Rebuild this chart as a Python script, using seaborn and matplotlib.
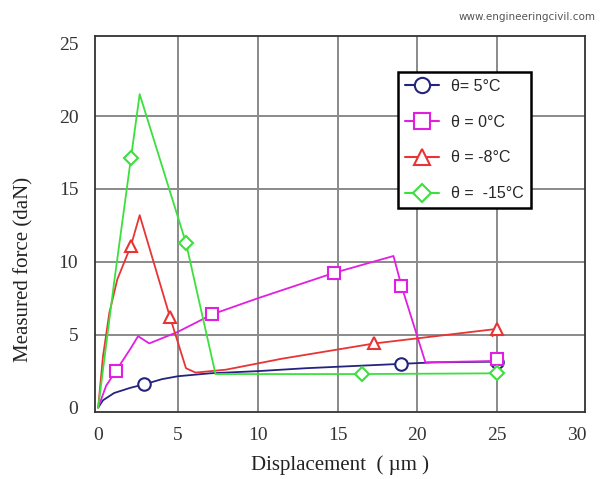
import numpy as np
import pandas as pd
import matplotlib
matplotlib.use("Agg")
import matplotlib.pyplot as plt
from matplotlib.lines import Line2D
import seaborn as sns

# ---- data ----
series_names = ["θ= 5°C", "θ = 0°C", "θ = -8°C", "θ =  -15°C"]
series_colors = ["#24247e", "#e21ee2", "#e83434", "#3ce03c"]
series_markers = ["o", "s", "^", "D"]

x_5 = [0, 0.3, 1.0, 2.0, 2.9, 4.0, 5.0, 7.0, 10.0, 13.0, 16.0, 19.0, 21.0, 25.0]
y_5 = [0, 0.5, 1.0, 1.35, 1.6, 1.95, 2.15, 2.35, 2.5, 2.7, 2.85, 3.0, 3.1, 3.15]

x_0 = [0, 0.5, 1.1, 2.0, 2.5, 3.2, 5.0, 7.15, 10.0, 14.8, 18.5, 19.0, 20.5, 25.0]
y_0 = [0, 1.5, 2.5, 4.0, 4.9, 4.4, 5.2, 6.4, 7.5, 9.25, 10.4, 8.35, 3.1, 3.2]

x_m8 = [0, 0.3, 0.7, 1.2, 2.05, 2.6, 4.5, 5.5, 6.1, 8.0, 11.5, 17.3, 25.0, 24.7]
y_m8 = [0, 3.5, 6.5, 8.8, 11.1, 13.2, 6.2, 2.7, 2.4, 2.6, 3.35, 4.4, 5.4, 4.9]

x_m15 = [0, 1.0, 2.05, 2.6, 5.5, 7.35, 16.5, 25.0]
y_m15 = [0, 8.6, 17.1, 21.5, 11.3, 2.3, 2.3, 2.35]

mx_5 = [2.9, 19.0, 25.0]
my_5 = [1.6, 3.0, 3.15]
mx_0 = [1.1, 7.15, 14.8, 19.0, 25.0]
my_0 = [2.5, 6.4, 9.25, 8.35, 3.3]
mx_m8 = [2.05, 4.5, 17.3, 25.0]
my_m8 = [11.1, 6.2, 4.4, 5.4]
mx_m15 = [2.05, 5.5, 16.5, 25.0]
my_m15 = [17.1, 11.3, 2.3, 2.35]

x_ticks = [0, 5, 10, 15, 20, 25, 30]
y_ticks = [0, 5, 10, 15, 20, 25]

lines = [(x_5, y_5), (x_0, y_0), (x_m8, y_m8), (x_m15, y_m15)]
marks = [(mx_5, my_5), (mx_0, my_0), (mx_m8, my_m8), (mx_m15, my_m15)]

line_df = pd.concat([pd.DataFrame({"x": x, "y": y, "s": n})
                     for (x, y), n in zip(lines, series_names)], ignore_index=True)
mark_df = pd.concat([pd.DataFrame({"x": x, "y": y, "s": n})
                     for (x, y), n in zip(marks, series_names)], ignore_index=True)

sns.set_style("white")
plt.rcParams["font.family"] = ["DejaVu Sans"]

fig = plt.figure(figsize=(6.05, 4.79), dpi=100)
ax = fig.add_axes([0.157, 0.140, 0.810, 0.785])

palette = dict(zip(series_names, series_colors))
sns.lineplot(data=line_df, x="x", y="y", hue="s", palette=palette, sort=False,
             estimator=None, lw=1.3, ax=ax, legend=False)
for name, col, mk in zip(series_names, series_colors, series_markers):
    sub = mark_df[mark_df.s == name]
    ms = 9 if mk != "D" else 7.5
    ax.plot(sub.x, sub.y, ls="none", marker=mk, ms=ms, mfc="white",
            mec=col, mew=1.5, zorder=5)

ax.set_xlim(-0.2, 30.5)
ax.set_ylim(-0.3, 25.5)
ax.set_xticks(x_ticks)
ax.set_yticks(y_ticks)
ax.grid(False)
for v in [5, 10, 15, 20, 25]:
    ax.axvline(v, color="#8a8a8a", lw=1.4, zorder=0)
for v in [5, 10, 15, 20]:
    ax.axhline(v, color="#8a8a8a", lw=1.4, zorder=0)

for s in ax.spines.values():
    s.set_color("#333333")
    s.set_linewidth(1.3)

serif = ["Liberation Serif", "DejaVu Serif"]
ax.tick_params(axis="x", direction="in", length=6, width=1.2, color="#333333",
               labelsize=14, pad=11)
ax.tick_params(axis="y", direction="inout", length=6, width=1.2, color="#333333",
               labelsize=14, pad=9)
for lab in ax.get_xticklabels() + ax.get_yticklabels():
    lab.set_family(serif)
    lab.set_color("#333333")

ax.set_xlabel("Displacement  ( µm )", family=serif, fontsize=15, color="#222222",
              labelpad=8)
ax.set_ylabel("Measured force (daN)", family=serif, fontsize=15, color="#222222")
ax.yaxis.set_label_coords(-0.125, 0.38)

handles = [Line2D([0], [0], color=c, lw=1.5, marker=m, ms=(11 if m != "D" else 9),
                  mfc="white", mec=c, mew=1.5)
           for c, m in zip(series_colors, series_markers)]
leg = ax.legend(handles, series_names, loc="upper left",
                bbox_to_anchor=(0.618, 0.905), frameon=True, fancybox=False,
                edgecolor="black", framealpha=1,
                prop={"family": ["Liberation Sans", "DejaVu Sans"], "size": 11.5},
                handlelength=2.1, handletextpad=0.8, labelspacing=1.3,
                borderpad=0.45, borderaxespad=0)
leg.get_frame().set_linewidth(1.8)

fig.text(0.985, 0.965, "www.engineeringcivil.com", ha="right", va="center",
         fontsize=7.5, color="#555555")

fig.savefig("out.png", dpi=100)
